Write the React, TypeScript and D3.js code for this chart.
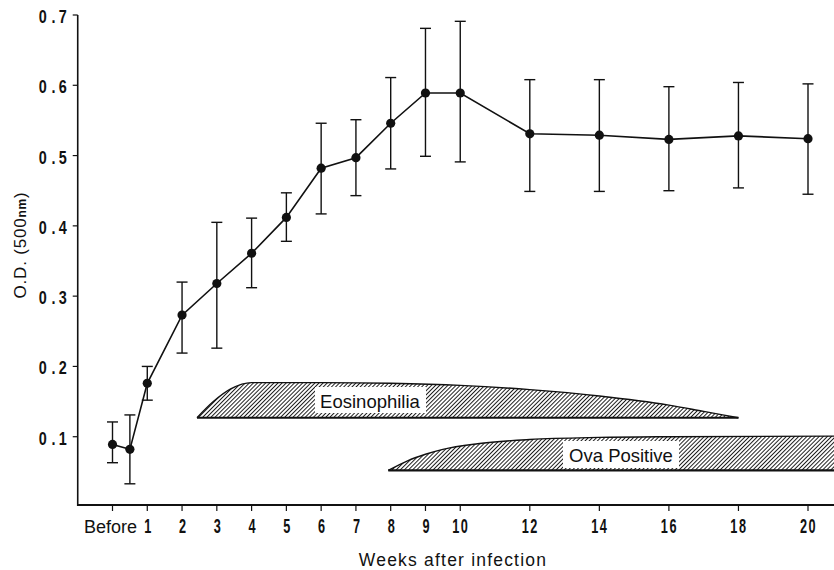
import React from "react";
import * as d3 from "d3";

// weeks after infection (0 = "Before")
const weeks = [0, 0.5, 1, 2, 3, 4, 5, 6, 7, 8, 9, 10, 12, 14, 16, 18, 20];
const means = [0.089, 0.082, 0.176, 0.273, 0.318, 0.361, 0.412, 0.482, 0.497, 0.546, 0.589, 0.589, 0.531, 0.529, 0.523, 0.528, 0.524];
const upper = [0.121, 0.131, 0.2, 0.32, 0.405, 0.411, 0.447, 0.546, 0.551, 0.611, 0.681, 0.691, 0.608, 0.608, 0.598, 0.604, 0.602];
const lower = [0.063, 0.033, 0.152, 0.219, 0.226, 0.312, 0.378, 0.417, 0.443, 0.481, 0.499, 0.491, 0.449, 0.449, 0.45, 0.454, 0.445];

const xTicks = [0, 1, 2, 3, 4, 5, 6, 7, 8, 9, 10, 12, 14, 16, 18, 20];
const xTickLabels = ["Before", "1", "2", "3", "4", "5", "6", "7", "8", "9", "10", "12", "14", "16", "18", "20"];
const yTicks = [0.1, 0.2, 0.3, 0.4, 0.5, 0.6, 0.7];

// hatched bands: [week, top value], base value
const eosinoTop: [number, number][] = [
  [2.43, 0.127], [2.9, 0.15], [3.4, 0.168], [4.0, 0.177], [6, 0.177], [8, 0.176],
  [10, 0.173], [12, 0.167], [14, 0.158], [16, 0.145], [17, 0.136], [18, 0.127],
];
const eosinoBase = 0.127;
const ovaTop: [number, number][] = [
  [7.93, 0.052], [8.5, 0.066], [9, 0.075], [9.5, 0.082], [10.5, 0.09], [12, 0.096],
  [14, 0.099], [16, 0.1], [22, 0.101],
];
const ovaBase = 0.052;

const W = 834;
const H = 570;
const sans = "'Liberation Sans', Arial, sans-serif";

export default function App() {
  const x = d3.scaleLinear().domain([0, 20]).range([112.5, 808]);
  const y = d3.scaleLinear().domain([0, 0.7]).range([507, 15]);
  const axisX = x(-1);
  const axisY = 505;

  const line = d3
    .line<number>()
    .x((_, i) => x(weeks[i]))
    .y((d) => y(d));

  const band = (pts: [number, number][], base: number) =>
    d3
      .area<[number, number]>()
      .x((d) => x(d[0]))
      .y0(y(base))
      .y1((d) => y(d[1]))
      .curve(d3.curveMonotoneX)(pts) || "";

  const topLine = (pts: [number, number][]) =>
    d3
      .line<[number, number]>()
      .x((d) => x(d[0]))
      .y((d) => y(d[1]))
      .curve(d3.curveMonotoneX)(pts) || "";

  return (
    <svg
      width={W}
      height={H}
      style={{ position: "absolute", left: 0, top: 0, background: "#fff" }}
    >
      <defs>
        <pattern
          id="hatch"
          width={2.9}
          height={4}
          patternUnits="userSpaceOnUse"
          patternTransform="rotate(45)"
        >
          <line x1={0.5} y1={0} x2={0.5} y2={4} stroke="#111" strokeWidth={0.95} />
        </pattern>
      </defs>

      {/* hatched bands */}
      <g>
        <path d={band(eosinoTop, eosinoBase)} fill="url(#hatch)" />
        <path d={topLine(eosinoTop)} fill="none" stroke="#111" strokeWidth={1.4} />
        <line
          x1={x(eosinoTop[0][0])}
          x2={x(eosinoTop[eosinoTop.length - 1][0])}
          y1={y(eosinoBase)}
          y2={y(eosinoBase)}
          stroke="#111"
          strokeWidth={2.2}
        />
        <rect x={315} y={387} width={111} height={26} fill="#fff" />
        <text x={370} y={408} textAnchor="middle" fontFamily={sans} fontSize={18.5} fill="#111">
          Eosinophilia
        </text>

        <path d={band(ovaTop, ovaBase)} fill="url(#hatch)" />
        <path d={topLine(ovaTop)} fill="none" stroke="#111" strokeWidth={1.4} />
        <line
          x1={x(ovaTop[0][0])}
          x2={W}
          y1={y(ovaBase)}
          y2={y(ovaBase)}
          stroke="#111"
          strokeWidth={2.2}
        />
        <rect x={563} y={441} width={116} height={27} fill="#fff" />
        <text x={621} y={462} textAnchor="middle" fontFamily={sans} fontSize={18.5} fill="#111">
          Ova Positive
        </text>
      </g>

      {/* axes */}
      <line x1={axisX} x2={axisX} y1={y(0.7)} y2={axisY + 1} stroke="#111" strokeWidth={1.6} />
      <line x1={axisX} x2={W} y1={axisY} y2={axisY} stroke="#111" strokeWidth={1.8} />
      {yTicks.map((t) => (
        <g key={t}>
          <line x1={axisX - 5} x2={axisX} y1={y(t)} y2={y(t)} stroke="#111" strokeWidth={1.2} />
          <text
            transform={`translate(${axisX - 11},${y(t) + 8}) scale(0.8,1)`}
            textAnchor="end"
            fontFamily={sans}
            fontWeight="bold"
            fontSize={18}
            fill="#111"
          >
            <tspan>{t.toFixed(1)[0]}</tspan>
            <tspan dx={6}>.</tspan>
            <tspan dx={4}>{t.toFixed(1)[2]}</tspan>
          </text>
        </g>
      ))}
      {xTicks.map((t, i) => (
        <g key={t}>
          <line x1={x(t)} x2={x(t)} y1={axisY} y2={axisY + 6} stroke="#111" strokeWidth={1.2} />
          {i === 0 ? (
            <text
              x={x(t) - 2}
              y={533}
              textAnchor="middle"
              fontFamily={sans}
              fontSize={18}
              fill="#111"
            >
              {xTickLabels[i]}
            </text>
          ) : (
            <text
              transform={`translate(${x(t) + 0.5},533) scale(0.62,1)`}
              textAnchor="middle"
              fontFamily={sans}
              fontWeight="bold"
              fontSize={20.5}
              letterSpacing={xTickLabels[i].length > 1 ? 2.5 : 0}
              fill="#111"
            >
              {xTickLabels[i]}
            </text>
          )}
        </g>
      ))}

      {/* axis titles */}
      <text
        x={453}
        y={566}
        textAnchor="middle"
        fontFamily={sans}
        fontSize={17.5}
        letterSpacing={1.2}
        fill="#111"
      >
        Weeks after infection
      </text>
      <text
        transform={`translate(26,${245}) rotate(-90)`}
        textAnchor="middle"
        fontFamily={sans}
        fontSize={17}
        letterSpacing={0.8}
        fill="#111"
      >
        O.D. (500<tspan fontSize={12} fontWeight="bold">nm</tspan>)
      </text>

      {/* error bars */}
      {weeks.map((w, i) => (
        <g key={w} stroke="#111" strokeWidth={1.4}>
          <line x1={x(w)} x2={x(w)} y1={y(upper[i])} y2={y(lower[i])} />
          <line x1={x(w) - 5.5} x2={x(w) + 5.5} y1={y(upper[i])} y2={y(upper[i])} />
          <line x1={x(w) - 5.5} x2={x(w) + 5.5} y1={y(lower[i])} y2={y(lower[i])} />
        </g>
      ))}

      {/* mean line and points */}
      <path d={line(means) || ""} fill="none" stroke="#111" strokeWidth={1.6} />
      {weeks.map((w, i) => (
        <circle key={w} cx={x(w)} cy={y(means[i])} r={4.6} fill="#111" />
      ))}
    </svg>
  );
}
